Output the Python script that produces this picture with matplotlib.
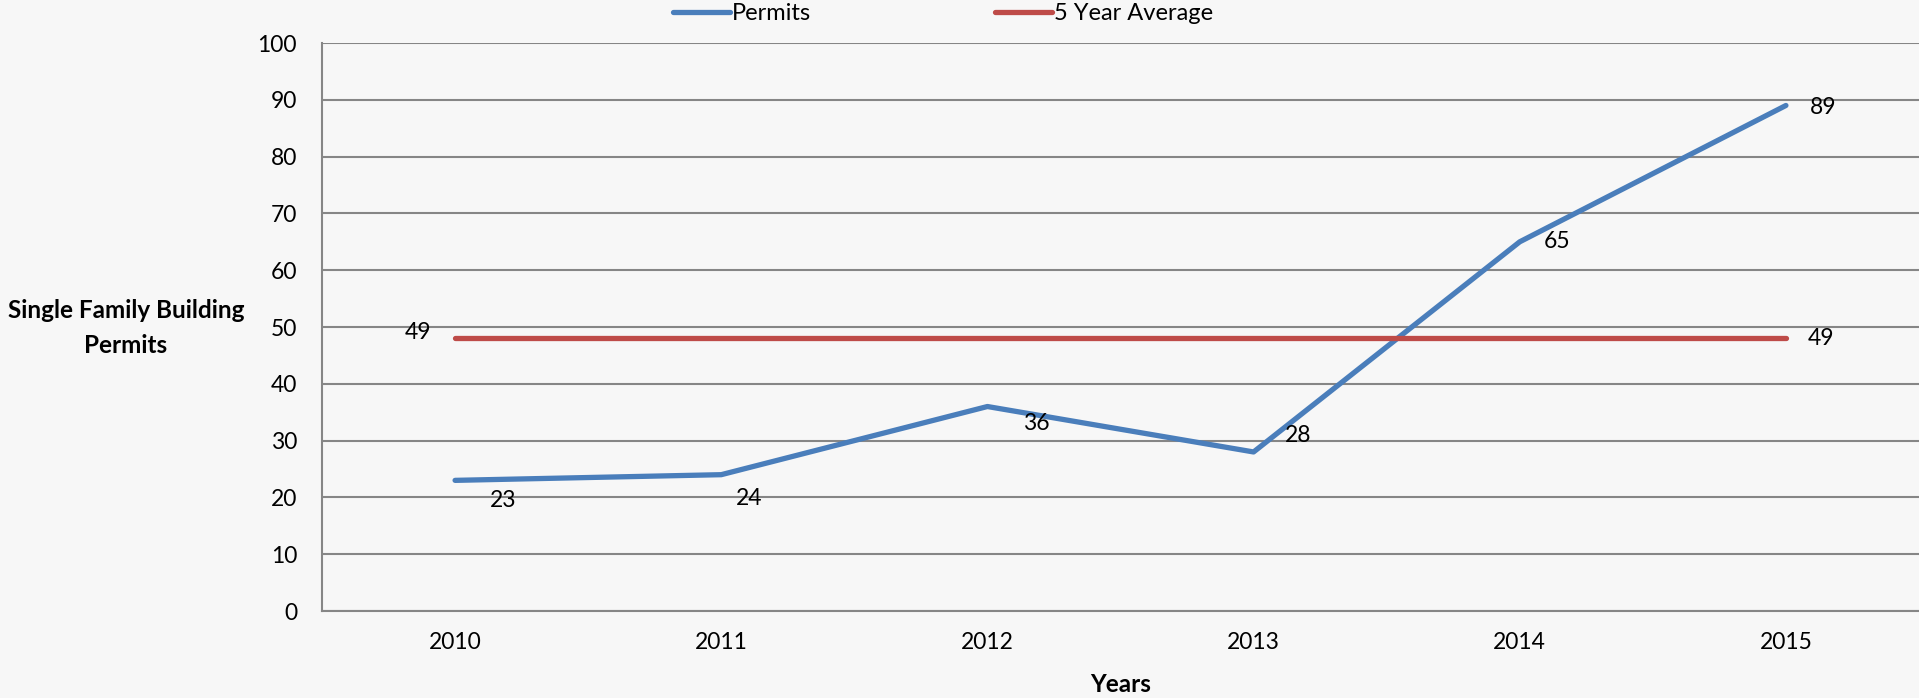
import matplotlib
matplotlib.use("Agg")
import matplotlib.pyplot as plt

# ---- data ----
years = ["2010", "2011", "2012", "2013", "2014", "2015"]
permits = [23, 24, 36, 28, 65, 89]
permit_labels = ["23", "24", "36", "28", "65", "89"]
five_year_avg = [48.1, 48.1, 48.1, 48.1, 48.1, 48.1]
avg_labels = ["49", "49"]
yticks = [0, 10, 20, 30, 40, 50, 60, 70, 80, 90, 100]

# label offsets (pixels) — styling only
permit_offsets = [(48, -20), (28, -24), (49, -17), (45, 16), (37, 0), (37, -2)]
avg_offsets = [(-37, 5), (35, -1)]

plt.rcParams['font.family'] = ['Lato', 'DejaVu Sans']

W, H, DPI = 1919, 698, 100
fig = plt.figure(figsize=(W / DPI, H / DPI), dpi=DPI, facecolor='#f7f7f7')
ax = fig.add_axes([322 / W, (698 - 611) / H, 1 - 322 / W, (611 - 43) / H])
ax.set_facecolor('none')

x = list(range(len(years)))
blue = '#4a7ebb'
red = '#be4b48'

ax.plot(x, permits, color=blue, lw=3.8, solid_capstyle='round', solid_joinstyle='round',
        label='Permits', zorder=3)
ax.plot(x, five_year_avg, color=red, lw=3.8, solid_capstyle='round', label='5 Year Average',
        zorder=3)

for xi, yi, lab, off in zip(x, permits, permit_labels, permit_offsets):
    ax.annotate(lab, (xi, yi), xytext=off, textcoords='offset pixels',
                ha='center', va='center', fontsize=16.5, color='black')
for xi, lab, off in zip([x[0], x[-1]], avg_labels, avg_offsets):
    ax.annotate(lab, (xi, five_year_avg[0]), xytext=off, textcoords='offset pixels',
                ha='center', va='center', fontsize=16.5, color='black')

ax.set_xlim(-0.5, len(years) - 0.5)
ax.set_ylim(0, 100)
ax.set_xticks(x)
ax.set_xticklabels(years)
ax.set_yticks(yticks)
ax.tick_params(axis='both', length=0, labelsize=16.5, colors='black')
ax.tick_params(axis='y', pad=18)
ax.tick_params(axis='x', pad=15)
ax.yaxis.grid(True, color='#868686', lw=1.5)
ax.set_axisbelow(True)
for s in ['top', 'right']:
    ax.spines[s].set_visible(False)
for s in ['left', 'bottom']:
    ax.spines[s].set_color('#868686')
    ax.spines[s].set_linewidth(1.5)

fig.text(126 / W, 1 - 328 / H, "Single Family Building\nPermits", ha='center', va='center',
         fontsize=17.5, fontweight='bold', linespacing=1.6)
fig.text(1121 / W, 1 - 685 / H, "Years", ha='center', va='center',
         fontsize=17.5, fontweight='bold')

leg = fig.legend(loc='upper center', bbox_to_anchor=(943 / W, 0.995), ncol=2, frameon=False,
                 fontsize=17, handlelength=2.4, handletextpad=0.08, columnspacing=7.8,
                 borderpad=0, borderaxespad=0)

fig.savefig('out.png', dpi=DPI, facecolor=fig.get_facecolor())
